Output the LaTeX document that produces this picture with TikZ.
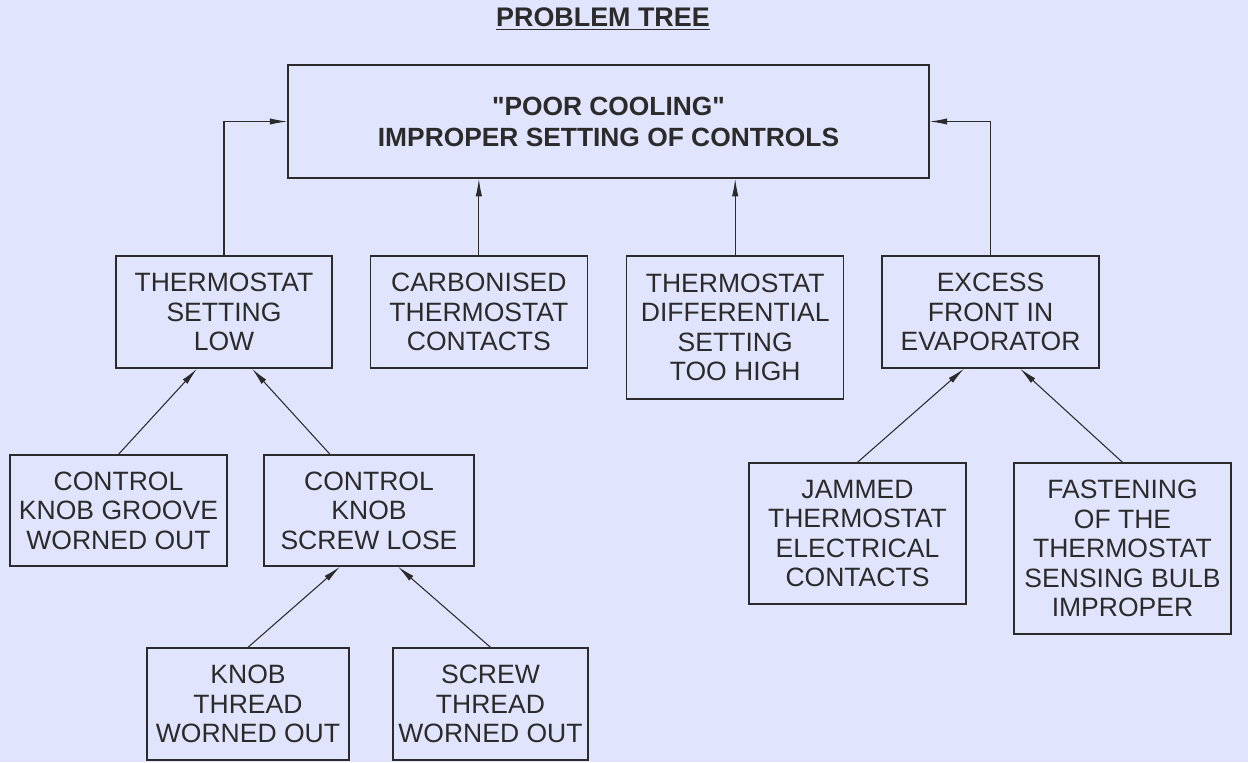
\documentclass[tikz,border=0pt]{standalone}
\usepackage{fontspec}
\setmainfont{Liberation Sans}[Ligatures=TeXOff]
\usepackage{xcolor}
\usepackage{tikz}
\usetikzlibrary{arrows.meta, positioning}
\definecolor{bgblue}{HTML}{E1E4FD}
\definecolor{ink}{HTML}{2B2B2B}

\begin{document}
\begin{tikzpicture}[x=0.02cm, y=-0.02cm,
    box/.style={rectangle, draw=ink, line width=0.8pt, text=ink, align=center, inner sep=0pt, minimum width=4.34cm, minimum height=2.24cm, font=\fontsize{15.1}{16.8}\selectfont},
    arrow/.style={-{Latex[length=10pt, width=3.6pt]}, draw=ink, line width=0.6pt}
]
\fill[bgblue] (0,0) rectangle (1248,762);
\useasboundingbox (0,0) rectangle (1248,762);

\node[text=ink, font=\bfseries\fontsize{15.3}{16.8}\selectfont] (title) at (603,19) {\underline{PROBLEM TREE}};

% main problem
\node[box, minimum width=12.82cm, minimum height=2.26cm, font=\bfseries\fontsize{15}{17.6}\selectfont] (top) at (608.5,121.5) {"POOR COOLING"\\IMPROPER SETTING OF CONTROLS};

% first level causes
\node[box, minimum width=4.32cm] (low) at (224,312) {THERMOSTAT\\SETTING\\LOW};
\node[box, right=0.74cm of low.north east, anchor=north west] (carbon) {CARBONISED\\THERMOSTAT\\CONTACTS};
\node[box, minimum height=2.86cm, right=0.76cm of carbon.north east, anchor=north west] (diff) {THERMOSTAT\\DIFFERENTIAL\\SETTING\\TOO HIGH};
\node[box, right=0.74cm of diff.north east, anchor=north west] (excess) {EXCESS\\FRONT IN\\EVAPORATOR};

% second level causes
\node[box, minimum height=2.22cm] (groove) at (118.5,510.5) {CONTROL\\KNOB GROOVE\\WORNED OUT};
\node[box, minimum width=4.2cm, minimum height=2.22cm] (screwlose) at (369,510.5) {CONTROL\\KNOB\\SCREW LOSE};
\node[box, minimum height=2.82cm] (jammed) at (857.5,533.5) {JAMMED\\THERMOSTAT\\ELECTRICAL\\CONTACTS};
\node[box, minimum height=3.42cm] (fasten) at (1122.5,548.5) {FASTENING\\OF THE\\THERMOSTAT\\SENSING BULB\\IMPROPER};

% third level causes
\node[box, minimum width=4.04cm] (knobthread) at (248,704) {KNOB\\THREAD\\WORNED OUT};
\node[box, minimum width=3.9cm] (screwthread) at (490.5,704) {SCREW\\THREAD\\WORNED OUT};

\draw[arrow] (low.north) |- (top.west);
\draw[arrow] (carbon.north) -- (carbon.north |- top.south);
\draw[arrow] (diff.north) -- (diff.north |- top.south);
\draw[arrow] (excess.north) |- (top.east);

\draw[arrow] (groove.north) -- ([xshift=-0.54cm]low.south);
\draw[arrow] ([xshift=-0.78cm]screwlose.north) -- ([xshift=0.56cm]low.south);
\draw[arrow] (knobthread.north) -- ([xshift=-0.58cm]screwlose.south);
\draw[arrow] (screwthread.north) -- ([xshift=0.58cm]screwlose.south);
\draw[arrow] (jammed.north) -- ([xshift=-0.53cm]excess.south);
\draw[arrow] (fasten.north) -- ([xshift=0.59cm]excess.south);
\end{tikzpicture}
\end{document}
